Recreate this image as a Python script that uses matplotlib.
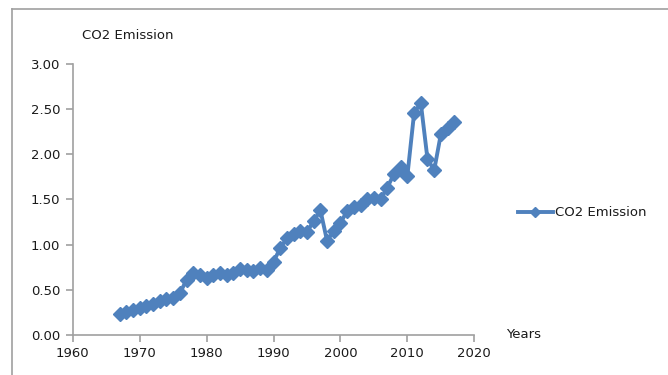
import matplotlib.pyplot as plt
from matplotlib.lines import Line2D

years = list(range(1967, 2018))
co2 = [0.23, 0.25, 0.28, 0.30, 0.32, 0.34, 0.37, 0.40, 0.41, 0.46,
       0.61, 0.68, 0.66, 0.63, 0.66, 0.68, 0.66, 0.68, 0.73, 0.72,
       0.71, 0.74, 0.72, 0.81, 0.96, 1.07, 1.12, 1.15, 1.14, 1.26,
       1.38, 1.04, 1.15, 1.24, 1.37, 1.41, 1.44, 1.50, 1.51, 1.50,
       1.63, 1.78, 1.86, 1.76, 2.45, 2.57, 1.95, 1.82, 2.22, 2.29,
       2.35]

blue = '#4F81BD'
grey = '#A0A0A0'

fig = plt.figure(figsize=(6.68, 3.75), dpi=100)
ax = fig.add_axes([0.109, 0.107, 0.601, 0.723])

ax.plot(years, co2, color=blue, lw=2.8, marker='D', ms=7,
        label='CO2 Emission')

ax.set_xlim(1960, 2020)
ax.set_ylim(0, 3)
ax.set_xticks(range(1960, 2021, 10))
ax.set_yticks([0, 0.5, 1.0, 1.5, 2.0, 2.5, 3.0])
ax.set_yticklabels(['%.2f' % v for v in ax.get_yticks()])

for s in ['top', 'right']:
    ax.spines[s].set_visible(False)
for s in ['left', 'bottom']:
    ax.spines[s].set_color(grey)
    ax.spines[s].set_linewidth(1.2)
ax.tick_params(colors=grey, labelcolor='#1a1a1a', labelsize=9.5,
               length=5, width=1.2, direction='out', pad=4)

fig.text(0.123, 0.905, 'CO2 Emission', fontsize=9.5, color='#1a1a1a',
         va='center')
fig.text(0.758, 0.107, 'Years', fontsize=9.5, color='#1a1a1a',
         va='center')

ax.legend(loc='center left', bbox_to_anchor=(1.08, 0.45), frameon=False,
          fontsize=9.5, handlelength=2.6, handletextpad=0.15,
          markerscale=0.7, labelcolor='#1a1a1a')

# outer chart border (cropped at right and bottom)
fig.add_artist(Line2D([12 / 668, 12 / 668], [0, 1 - 9 / 375],
                      color=grey, lw=1.2, transform=fig.transFigure))
fig.add_artist(Line2D([12 / 668, 1], [1 - 9 / 375, 1 - 9 / 375],
                      color=grey, lw=1.2, transform=fig.transFigure))

fig.savefig('out.png', dpi=100)
